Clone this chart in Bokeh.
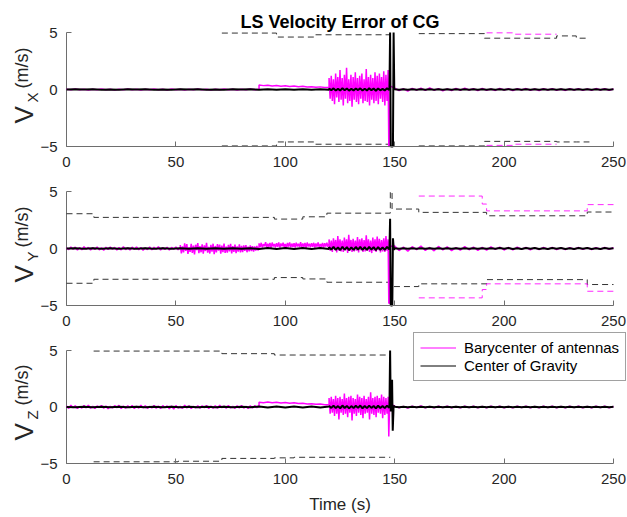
import numpy as np
from bokeh.plotting import figure
from bokeh.layouts import column
from bokeh.models import Label, Legend, LegendItem, FixedTicker, Range1d
from bokeh.embed import file_html
from bokeh.resources import INLINE

FONT = "Liberation Sans"
MAGENTA = "#FF00FF"
TEXT = "#262626"
AXIS = "#6e6e6e"

TITLE = "LS Velocity Error of CG"
X_LABEL = "Time (s)"
SERIES_NAMES = ["Barycenter of antennas", "Center of Gravity"]
UNIT = "(m/s)"
TIME_TICKS = [0, 50, 100, 150, 200, 250]
V_TICKS = [-5, 0, 5]
T_LIMITS = (0, 250)
V_LIMITS = (-5, 5)

# ---------------- Panel X ----------------
bx_quiet = [0.02, -0.03, 0.04, -0.02, 0.03, -0.04, 0.02, -0.03, 0.05, -0.02, 0.03, -0.04, 0.02, -0.03, 0.04,
            -0.02, 0.03, -0.05, 0.02, -0.03, 0.04, -0.02, 0.03, -0.04, 0.05, -0.03, 0.02, -0.04, 0.03, -0.02,
            0.04, -0.03, 0.02, -0.05, 0.03, -0.02, 0.04, -0.03, 0.02, -0.04, 0.03, -0.02, 0.05, -0.03, 0.02]
bx_drift = [0.40, 0.34, 0.38, 0.31, 0.35, 0.29, 0.33, 0.27, 0.30, 0.24, 0.28, 0.22, 0.25, 0.19, 0.23, 0.17, 0.20]
bx_noisy = [1.0, -0.8, 1.2, -1.0, 0.9, -1.3, 1.4, -0.7, 1.1, -1.1, 1.7, -0.9, 1.0, -1.4, 1.3, -0.8, 1.9, -1.2,
            0.9, -1.0, 1.3, -1.5, 1.1, -0.9, 1.5, -1.1, 1.0, -1.3, 1.2, -0.8, 1.4, -1.2, 0.9, -1.0, 1.8, -1.1,
            1.1, -1.4, 1.3, -0.9, 1.0, -1.2, 1.5, -1.0, 1.2, -1.3, 1.4, -0.8, 1.1, -1.1, 1.6, -1.4, 1.3, -1.0, 1.7]
bx_spike_t = [147.0, 147.3, 147.6, 148.0]
bx_spike_v = [1.2, -5.0, -5.0, 0.3]
bx_tail = [0.12, -0.10, 0.06, -0.13, 0.09, -0.05, 0.11, -0.08, 0.13, -0.06, 0.08, -0.11, 0.05, -0.09, 0.10,
           -0.07, 0.12, -0.04, 0.07, -0.10, 0.09, -0.06, 0.04, -0.08, 0.10, -0.05, 0.07, -0.09, 0.06, -0.04,
           0.08, -0.07, 0.05, -0.09, 0.06, -0.05, 0.08, -0.06, 0.04, -0.08, 0.07, -0.05, 0.06, -0.07, 0.05,
           -0.06, 0.08, -0.04, 0.06, -0.07, 0.05]
cx_pre = [0.00, 0.02, -0.01, 0.02, -0.02, 0.01, -0.02, 0.02, -0.01, 0.02, -0.02, 0.01, -0.02, 0.02, -0.01, 0.02,
          -0.02, 0.01, -0.02, 0.02, -0.01, 0.02, -0.02, 0.03, -0.02, 0.02, -0.03, 0.02, -0.02, 0.03, -0.02]
cx_band = [0.08, -0.06, 0.10, -0.09, 0.05, -0.08, 0.11, -0.07, 0.09, -0.10, 0.06, -0.08, 0.09, -0.05, 0.10,
           -0.09, 0.07, -0.08, 0.10, -0.06, 0.08, -0.11, 0.09, -0.07, 0.06, -0.08, 0.10, -0.05]
cx_spike_t = [147.6, 147.9, 148.2, 149.2, 149.5, 149.8]
cx_spike_v = [0.05, 5.0, -5.0, -5.0, 5.0, 0.1]
cx_tail = [0.03, -0.02, 0.02, -0.03, 0.02, -0.02, 0.03, -0.02, 0.02, -0.03, 0.02, -0.02, 0.03, -0.02, 0.02,
           -0.03, 0.02, -0.02, 0.03, -0.02, 0.02, -0.03, 0.02, -0.02, 0.03, -0.02, 0.03, -0.02, 0.02, -0.03,
           0.02, -0.02, 0.03, -0.02, 0.02, -0.03, 0.02, -0.02, 0.03, -0.02, 0.02, -0.03, 0.02, -0.02, 0.03,
           -0.02, 0.02, -0.03, 0.02, -0.02, 0.02]
xk_t0 = [71, 96, 113, 161, 191, 224, 233]
xk_t1 = [96, 113, 148, 191, 224, 233, 239]
xk_up = [4.95, 4.6, 4.8, 4.9, 4.5, 4.7, 4.5]
xk_lo = [-4.95, -4.6, -4.8, -4.95, -4.55, -4.6, -4.6]
xm_t0 = [192, 205]
xm_t1 = [205, 224]
xm_up = [4.97, 4.85]
xm_lo = [-4.9, -4.8]

# ---------------- Panel Y ----------------
by_quiet = [0.06, -0.10, 0.13, -0.07, 0.12, -0.14, 0.08, -0.11, 0.15, -0.06, 0.10, -0.13, 0.09, -0.08, 0.14,
            -0.12, 0.07, -0.15, 0.11, -0.09, 0.13, -0.06, 0.10, -0.14, 0.08, -0.12, 0.16, -0.10, 0.07, -0.13,
            0.12, -0.08, 0.14, -0.11, 0.09, -0.15, 0.06, -0.10, 0.13, -0.12, 0.11, -0.07, 0.15, -0.13, 0.08,
            -0.09, 0.12, -0.14, 0.10, -0.06, 0.13, -0.11, 0.09]
by_wide = [0.30, -0.42, 0.18, -0.35, 0.45, -0.20, 0.38, -0.48, 0.12, -0.30, 0.41, -0.38, 0.25, -0.52, 0.33,
           -0.15, 0.47, -0.40, 0.20, -0.33, 0.36, -0.45, 0.28, -0.22, 0.50, -0.37, 0.15, -0.44, 0.31, -0.28,
           0.42, -0.50, 0.22, -0.34, 0.39, -0.18, 0.35, -0.46, 0.26, -0.31, 0.44, -0.39, 0.17, -0.36, 0.32,
           -0.25, 0.40, -0.43, 0.21, -0.30, 0.34, -0.41, 0.19, -0.27, 0.36, -0.35, 0.23, -0.32, 0.28, -0.20,
           0.30, -0.33, 0.16, -0.25, 0.27, -0.22, 0.20, -0.28, 0.18, -0.19, 0.22, -0.17, 0.15]
by_offset = [0.45, 0.12, 0.50, 0.08, 0.38, 0.20, 0.55, 0.10, 0.42, 0.15, 0.48, 0.05, 0.52, 0.18, 0.40, 0.09,
             0.47, 0.14, 0.53, 0.07, 0.44, 0.19, 0.50, 0.11, 0.39, 0.06, 0.49, 0.16, 0.54, 0.10, 0.43, 0.13,
             0.46, 0.08, 0.51, 0.17, 0.41, 0.12, 0.55, 0.09, 0.45, 0.15, 0.48, 0.06, 0.52, 0.18, 0.42, 0.10,
             0.47, 0.14, 0.50, 0.08, 0.44, 0.16, 0.53, 0.11, 0.40, 0.13, 0.49, 0.07, 0.46, 0.17, 0.51, 0.12, 0.45]
by_noisy = [0.8, -0.2, 0.7, -0.3, 0.9, -0.1, 0.75, -0.35, 1.1, -0.2, 0.8, -0.25, 0.7, -0.3, 0.95, -0.15, 0.8,
            -0.4, 1.2, -0.2, 0.75, -0.3, 0.85, -0.25, 0.7, -0.2, 1.0, -0.35, 0.8, -0.15, 0.9, -0.3, 0.75, -0.25,
            1.15, -0.2, 0.8, -0.3, 0.7, -0.4, 0.95, -0.2, 0.8, -0.3, 1.05, -0.15, 0.85, -0.35, 0.75, -0.25, 0.9,
            -0.3, 1.1, -0.2, 0.8]
by_spike_t = [147.0, 147.3, 147.6, 148.0]
by_spike_v = [0.5, -4.8, -4.8, 0.2]
by_tail = [0.22, -0.18, 0.12, -0.24, 0.16, -0.10, 0.21, -0.17, 0.09, -0.20, 0.18, -0.12, 0.15, -0.19, 0.08,
           -0.15, 0.17, -0.11, 0.13, -0.16, 0.10, -0.14, 0.15, -0.08, 0.12, -0.13, 0.09, -0.12, 0.11, -0.07,
           0.10, -0.11, 0.08, -0.10, 0.09, -0.06, 0.10, -0.09, 0.07, -0.10, 0.08, -0.06, 0.09, -0.08, 0.06,
           -0.09, 0.08, -0.07, 0.09, -0.06, 0.07]
cy_pre = [0.00, 0.02, -0.02, 0.03, -0.02, 0.02, -0.03, 0.02, -0.02, 0.03, -0.02, 0.02, -0.03, 0.02, -0.02, 0.03,
          -0.02, 0.02, -0.03, 0.02, -0.02, 0.03, -0.04, 0.05, -0.04, 0.05, -0.05, 0.04, -0.05, 0.05, -0.04]
cy_band = [0.12, -0.10, 0.14, -0.12, 0.09, -0.13, 0.15, -0.11, 0.12, -0.14, 0.10, -0.12, 0.13, -0.09, 0.15,
           -0.13, 0.11, -0.12, 0.14, -0.10, 0.12, -0.15, 0.13, -0.11, 0.10, -0.12, 0.14, -0.08]
cy_spike_t = [147.6, 147.9, 148.2, 148.9, 149.2, 149.6]
cy_spike_v = [0.0, 2.6, -5.0, -5.0, 0.9, -0.1]
cy_tail = [0.03, -0.02, 0.02, -0.03, 0.02, -0.02, 0.03, -0.02, 0.02, -0.03, 0.02, -0.02, 0.03, -0.02, 0.02,
           -0.03, 0.02, -0.02, 0.03, -0.02, 0.02, -0.03, 0.02, -0.02, 0.04, -0.03, 0.04, -0.04, 0.03, -0.04,
           0.04, -0.03, 0.04, -0.04, 0.03, -0.04, 0.04, -0.03, 0.04, -0.04, 0.03, -0.04, 0.04, -0.03, 0.04,
           -0.04, 0.03, -0.04, 0.04, -0.03, 0.03]
yk_t0 = [0, 12.5, 95, 108, 119, 148, 148.8, 161, 192, 238]
yk_t1 = [12.5, 95, 108, 119, 148, 148.8, 161, 192, 238, 250]
yk_up = [3.05, 2.73, 2.58, 2.78, 3.1, 5.0, 3.46, 3.17, 2.87, 3.2]
yk_lo = [-3.05, -2.7, -2.55, -2.67, -2.96, -5.0, -3.34, -3.1, -2.73, -3.16]
ym_t0 = [161, 190, 192, 238]
ym_t1 = [190, 192, 238, 250]
ym_up = [4.6, 3.9, 3.3, 3.85]
ym_lo = [-4.33, -3.6, -3.1, -3.75]

# ---------------- Panel Z ----------------
bz_quiet = [0.08, -0.12, 0.15, -0.06, 0.11, -0.14, 0.05, -0.10, 0.13, -0.08, 0.16, -0.11, 0.07, -0.13, 0.10,
            -0.05, 0.14, -0.12, 0.09, -0.15, 0.06, -0.09, 0.12, -0.07, 0.15, -0.13, 0.08, -0.11, 0.10, -0.06,
            0.13, -0.14, 0.07, -0.10, 0.16, -0.08, 0.11, -0.12, 0.05, -0.09, 0.14, -0.11, 0.08, -0.13, 0.12,
            -0.07, 0.10, -0.15, 0.09, -0.18, 0.13, -0.10, 0.06, -0.12, 0.15, -0.08, 0.11, -0.14, 0.07, -0.09,
            0.12, -0.11, 0.10, -0.06, 0.14, -0.13, 0.08, -0.10, 0.11, -0.12, 0.15, -0.07, 0.09, -0.11, 0.13,
            -0.09, 0.06, -0.12, 0.10, -0.08, 0.14, -0.10, 0.07, -0.13, 0.11, -0.09, 0.12, -0.06, 0.10]
bz_drift = [0.42, 0.38, 0.44, 0.37, 0.41, 0.36, 0.40, 0.34, 0.37, 0.31, 0.33, 0.27, 0.29, 0.24, 0.26, 0.20, 0.22]
bz_noisy = [0.8, -0.6, 0.9, -0.5, 0.7, -0.8, 1.0, -0.6, 0.8, -1.1, 0.9, -0.5, 0.7, -0.7, 1.2, -0.6, 0.8, -0.9,
            0.9, -0.5, 1.0, -1.2, 0.8, -0.6, 0.7, -0.8, 1.1, -0.5, 0.9, -0.7, 0.8, -1.0, 1.0, -0.6, 0.7, -0.5,
            0.9, -1.1, 1.3, -0.6, 0.8, -0.7, 0.9, -0.9, 1.0, -0.5, 0.8, -0.6, 1.1, -1.0, 0.9, -0.7, 0.8, -0.6, 0.7]
bz_spike_t = [147.0, 147.3, 147.6, 148.0]
bz_spike_v = [0.9, -2.6, -0.4, 0.3]
bz_tail = [0.08, -0.06, 0.05, -0.09, 0.07, -0.04, 0.09, -0.07, 0.05, -0.08, 0.06, -0.05, 0.08, -0.06, 0.04,
           -0.08, 0.07, -0.05, 0.06, -0.07, 0.05, -0.06, 0.08, -0.04, 0.06, -0.07, 0.05, -0.08, 0.06, -0.05,
           0.07, -0.06, 0.04, -0.07, 0.06, -0.05, 0.08, -0.06, 0.05, -0.07, 0.06, -0.04, 0.07, -0.06, 0.05,
           -0.07, 0.06, -0.05, 0.07, -0.06, 0.05]
cz_pre = [0.00, -0.02, 0.02, -0.03, 0.02, -0.02, 0.03, -0.02, 0.02, -0.03, 0.02, -0.02, 0.03, -0.02, 0.02, -0.03,
          0.02, -0.02, 0.03, -0.02, 0.02, -0.03, 0.04, -0.05, 0.04, -0.05, 0.05, -0.04, 0.05, -0.05, 0.04]
cz_band = [0.10, -0.08, 0.12, -0.10, 0.08, -0.11, 0.13, -0.09, 0.10, -0.12, 0.08, -0.10, 0.11, -0.08, 0.13,
           -0.11, 0.09, -0.10, 0.12, -0.08, 0.10, -0.13, 0.11, -0.09, 0.08, -0.10, 0.12, -0.06]
cz_spike_t = [147.6, 147.9, 148.2, 148.8, 149.1, 149.5]
cz_spike_v = [0.0, 5.0, -0.4, 2.4, -2.1, 0.1]
cz_tail = [0.03, -0.02, 0.03, -0.03, 0.02, -0.03, 0.03, -0.02, 0.03, -0.03, 0.02, -0.03, 0.03, -0.02, 0.03,
           -0.03, 0.02, -0.03, 0.03, -0.02, 0.03, -0.03, 0.02, -0.03, 0.03, -0.02, 0.03, -0.03, 0.02, -0.03,
           0.03, -0.02, 0.03, -0.03, 0.02, -0.03, 0.03, -0.02, 0.03, -0.03, 0.02, -0.03, 0.03, -0.02, 0.03,
           -0.03, 0.02, -0.03, 0.03, -0.02, 0.02]
zk_t0 = [12.4, 51, 71, 95, 104]
zk_t1 = [51, 71, 95, 104, 148]
zk_up = [4.95, 4.95, 4.72, 4.6, 4.6]
zk_lo = [-4.85, -4.8, -4.55, -4.5, -4.45]


def span(t0, t1, vals):
    return np.linspace(t0, t1, len(vals)), np.asarray(vals, dtype=float)


def pts(ts, vals):
    return np.asarray(ts, dtype=float), np.asarray(vals, dtype=float)


def join(*parts):
    return np.concatenate([p[0] for p in parts]), np.concatenate([p[1] for p in parts])


def steps(t0s, t1s, levels):
    xs, ys, prev = [], [], None
    for a, b, lv in zip(t0s, t1s, levels):
        if prev is not None and abs(a - prev) > 1e-9:
            xs.append(np.nan)
            ys.append(np.nan)
        xs += [a, b]
        ys += [lv, lv]
        prev = b
    return xs, ys


# ---- layout (pixels) ----
PAGE_W = 627
AX_LEFT = 66          # pixel where t = 0 lies
AX_W = 547            # pixels for 0..250 s
PX_PER_S = AX_W / (T_LIMITS[1] - T_LIMITS[0])
X_RANGE = (T_LIMITS[0] - AX_LEFT / PX_PER_S, T_LIMITS[1] + (PAGE_W - AX_LEFT - AX_W) / PX_PER_S)
BASELINE_SHIFT = 0.3  # Bokeh draws label baselines ~0.3 em past the anchor

panels = [
    dict(
        sub="X",
        bary=join(span(0, 88, bx_quiet), span(88, 120, bx_drift), span(120, 147, bx_noisy),
                  pts(bx_spike_t, bx_spike_v), span(150, 250, bx_tail)),
        cg=join(span(0, 120, cx_pre), span(120, 147.5, cx_band), pts(cx_spike_t, cx_spike_v),
                span(150, 250, cx_tail)),
        kb=[(xk_t0, xk_t1, xk_up), (xk_t0, xk_t1, xk_lo)],
        mb=[(xm_t0, xm_t1, xm_up), (xm_t0, xm_t1, xm_lo)],
        height=176, top=32, axes_h=114,
    ),
    dict(
        sub="Y",
        bary=join(span(0, 52, by_quiet), span(52, 88, by_wide), span(88, 120, by_offset),
                  span(120, 147, by_noisy), pts(by_spike_t, by_spike_v), span(150, 250, by_tail)),
        cg=join(span(0, 120, cy_pre), span(120, 147.5, cy_band), pts(cy_spike_t, cy_spike_v),
                span(150, 250, cy_tail)),
        kb=[(yk_t0, yk_t1, yk_up), (yk_t0, yk_t1, yk_lo)],
        mb=[(ym_t0, ym_t1, ym_up), (ym_t0, ym_t1, ym_lo)],
        height=156, top=15, axes_h=114,
    ),
    dict(
        sub="Z",
        bary=join(span(0, 88, bz_quiet), span(88, 120, bz_drift), span(120, 147, bz_noisy),
                  pts(bz_spike_t, bz_spike_v), span(150, 250, bz_tail)),
        cg=join(span(0, 120, cz_pre), span(120, 147.5, cz_band), pts(cz_spike_t, cz_spike_v),
                span(150, 250, cz_tail)),
        kb=[(zk_t0, zk_t1, zk_up), (zk_t0, zk_t1, zk_lo)],
        mb=[],
        height=185, top=18, axes_h=113,
    ),
]

figs = []
for i, pd_ in enumerate(panels):
    last = i == len(panels) - 1
    H = pd_["height"]
    px_per_v = pd_["axes_h"] / (V_LIMITS[1] - V_LIMITS[0])
    below_px = H - pd_["top"] - pd_["axes_h"]
    y_rng = (V_LIMITS[0] - below_px / px_per_v, V_LIMITS[1] + pd_["top"] / px_per_v)

    def vy(px_from_top):
        # vertical pixel position (from the top of this figure) -> data value
        return V_LIMITS[1] - (px_from_top - pd_["top"]) / px_per_v

    p = figure(width=PAGE_W, height=H, output_backend="svg", toolbar_location=None,
               x_range=Range1d(*X_RANGE), y_range=Range1d(*y_rng),
               min_border_left=0, min_border_right=0, min_border_top=0, min_border_bottom=0)
    p.outline_line_color = None
    p.grid.visible = False
    p.background_fill_color = "white"
    p.border_fill_color = "white"

    for ax, ticks, bnds in ((p.xaxis[0], TIME_TICKS, T_LIMITS), (p.yaxis[0], V_TICKS, V_LIMITS)):
        ax.ticker = FixedTicker(ticks=ticks)
        ax.bounds = bnds
        ax.minor_tick_line_color = None
        ax.major_tick_in = 5
        ax.major_tick_out = 0
        ax.major_tick_line_color = AXIS
        ax.axis_line_color = AXIS
        ax.axis_line_width = 1
        ax.major_label_text_font = FONT
        ax.major_label_text_font_size = "15px"
        ax.major_label_text_color = TEXT
    p.xaxis.fixed_location = V_LIMITS[0]
    p.yaxis.fixed_location = T_LIMITS[0]
    p.yaxis.axis_line_color = None
    p.yaxis.major_tick_line_color = None
    p.xaxis.major_label_standoff = 10
    p.yaxis.major_label_standoff = 9

    # left axis rule and inward ticks
    p.segment(x0=[T_LIMITS[0]], y0=[V_LIMITS[0]], x1=[T_LIMITS[0]], y1=[V_LIMITS[1]],
              line_color=AXIS, line_width=1)
    p.ray(x=[T_LIMITS[0]] * len(V_TICKS), y=V_TICKS, length=5, length_units="screen", angle=0,
          line_color=AXIS, line_width=1)

    if last:
        p.xaxis.axis_label = X_LABEL
        p.xaxis.axis_label_text_font = FONT
        p.xaxis.axis_label_text_font_size = "17px"
        p.xaxis.axis_label_text_font_style = "normal"
        p.xaxis.axis_label_text_color = TEXT
        p.xaxis.axis_label_standoff = 8

    if i == 0:
        p.add_layout(Label(x=(T_LIMITS[0] + T_LIMITS[1]) / 2, y=vy(27 - BASELINE_SHIFT * 18), text=TITLE,
                           text_font=FONT, text_font_size="18px", text_font_style="bold",
                           text_color="#000000", text_align="center", text_baseline="alphabetic"))

    for t0s, t1s, lv in pd_["kb"]:
        xs, ys = steps(t0s, t1s, lv)
        p.line(xs, ys, line_color="#333333", line_width=1, line_dash="6 4")
    for t0s, t1s, lv in pd_["mb"]:
        xs, ys = steps(t0s, t1s, lv)
        p.line(xs, ys, line_color=MAGENTA, line_width=1, line_dash="6 4", line_alpha=0.85)

    tb, vb = pd_["bary"]
    p.line(tb, vb, line_color=MAGENTA, line_width=1.5)
    tc, vc = pd_["cg"]
    p.line(tc, vc, line_color="#000000", line_width=2)

    # y label: V with subscript, then unit (rotated, reading upwards)
    # (baseline x in page px, start offset above the axes bottom in px, font px)
    for txt, bx, dy, size in (("V", 31, 23, 26), (pd_["sub"], 36, 44, 15), (UNIT, 27, 58, 18)):
        dx = bx - BASELINE_SHIFT * size - AX_LEFT
        p.add_layout(Label(x=dx / PX_PER_S, y=V_LIMITS[0] + dy / px_per_v,
                           text=txt, angle=np.pi / 2, text_font=FONT, text_font_size=f"{size}px",
                           text_color=TEXT, text_align="left", text_baseline="alphabetic"))

    if last:
        # legend keys drawn as thin lines
        kb_r = p.line([np.nan], [np.nan], line_color=MAGENTA, line_width=1)
        kc_r = p.line([np.nan], [np.nan], line_color="#000000", line_width=1)
        legend = Legend(items=[LegendItem(label=SERIES_NAMES[0], renderers=[kb_r]),
                               LegendItem(label=SERIES_NAMES[1], renderers=[kc_r])],
                        location=(413, H - 49))
        legend.label_text_font = FONT
        legend.label_text_font_size = "15px"
        legend.label_text_color = "#000000"
        legend.glyph_width = 36
        legend.glyph_height = 17
        legend.label_height = 17
        legend.label_standoff = 8
        legend.padding = 6
        legend.spacing = 1
        legend.margin = 0
        legend.border_line_color = "#444444"
        legend.border_line_width = 1
        legend.background_fill_color = "white"
        legend.background_fill_alpha = 1
        p.add_layout(legend)
    figs.append(p)

layout = column(*figs, spacing=0)
open("out.html", "w").write(file_html(layout, INLINE))
